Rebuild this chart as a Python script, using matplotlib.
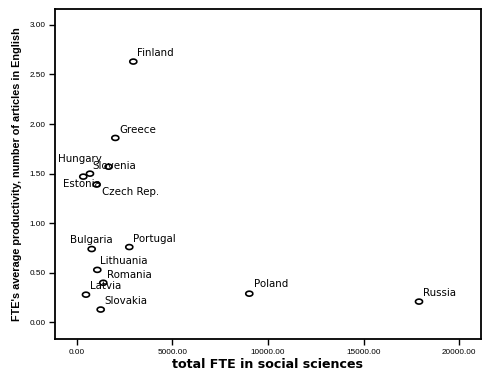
import matplotlib
matplotlib.use("Agg")
import matplotlib.pyplot as plt
import numpy as np
from matplotlib.path import Path

countries = ["Finland", "Greece", "Slovenia", "Hungary", "Estonia", "Czech Rep.",
             "Bulgaria", "Portugal", "Lithuania", "Romania", "Latvia", "Slovakia",
             "Poland", "Russia"]
fte_total = [2960, 2020, 1670, 695, 345, 1045, 784, 2750, 1078, 1390, 486, 1255, 9023, 17895]
productivity = [2.63, 1.86, 1.57, 1.50, 1.47, 1.39, 0.74, 0.76, 0.53, 0.40, 0.28, 0.13, 0.29, 0.21]

x_ticks = [0, 5000, 10000, 15000, 20000]
y_ticks = [0.0, 0.5, 1.0, 1.5, 2.0, 2.5, 3.0]
x_label = "total FTE in social sciences"
y_label = "FTE's average productivity, number of articles in English"

# label offsets in pixels (layout only)
label_offsets = {
    "Finland": (4, 8.6), "Greece": (4, 8.4), "Slovenia": (-16, 0.7),
    "Hungary": (-32, 14.4), "Estonia": (-20, -7), "Czech Rep.": (5, -7.7),
    "Bulgaria": (-22, 8.7), "Portugal": (4, 8.4), "Lithuania": (3, 8.7),
    "Romania": (4, 7.7), "Latvia": (4, 9), "Slovakia": (4, 9),
    "Poland": (5, 9.4), "Russia": (4, 8.4),
}

plt.rcParams['font.family'] = ['Liberation Sans', 'DejaVu Sans']

fig = plt.figure(figsize=(4.93, 3.76), dpi=100)
ax = fig.add_axes([55/493, 37/376, (481-55)/493, (339-9)/376])

theta = np.linspace(0, 2*np.pi, 40)
ell = Path(np.column_stack([np.cos(theta), 0.7*np.sin(theta)]))
ax.scatter(fte_total, productivity, marker=ell, s=26, facecolors='none',
           edgecolors='black', linewidths=1.2, zorder=3)

for name, xv, yv in zip(countries, fte_total, productivity):
    dx, dy = label_offsets[name]
    ax.annotate(name, (xv, yv), xytext=(dx, dy), textcoords='offset pixels',
                ha='left', va='center', fontsize=7.4, color='black',
                family='DejaVu Sans')

ax.set_xlim(-1134, 21135)
ax.set_ylim(-0.167, 3.16)
ax.set_xticks(x_ticks)
ax.set_yticks(y_ticks)
ax.set_xticklabels([f"{v:.2f}" for v in x_ticks])
ax.set_yticklabels([f"{v:.2f}" for v in y_ticks])
ax.tick_params(direction='out', length=4, width=1, labelsize=5.9, pad=3)
for sp in ax.spines.values():
    sp.set_linewidth(1.3)
ax.set_xlabel(x_label, fontsize=9.1, fontweight='bold', labelpad=2,
              family='DejaVu Sans')
ax.set_ylabel(y_label, fontsize=7.8, fontweight='bold', labelpad=5)

fig.savefig("out.png", dpi=100, facecolor='white')
